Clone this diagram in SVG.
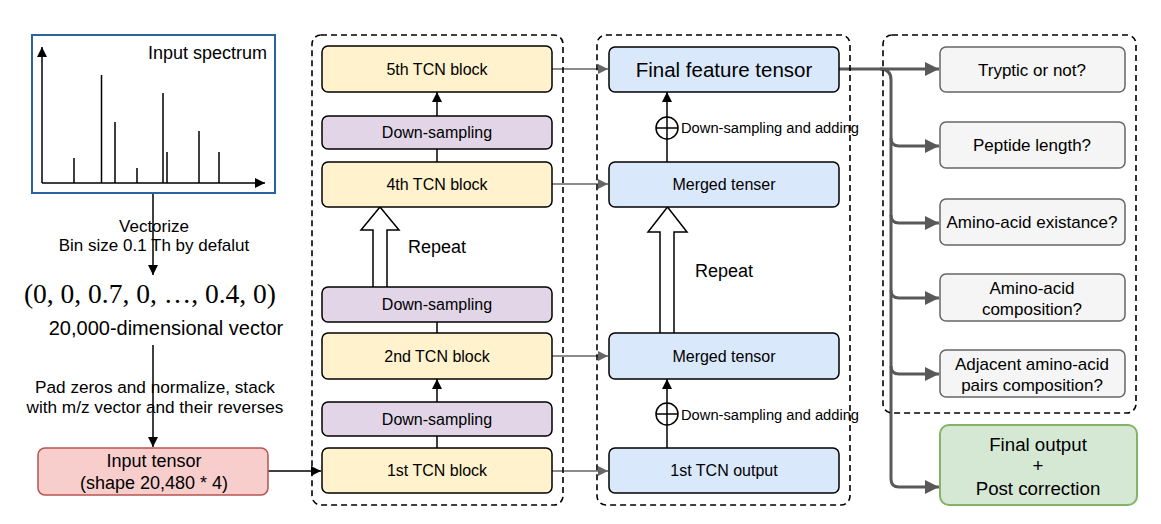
<svg xmlns="http://www.w3.org/2000/svg" width="1161" height="524" viewBox="0 0 1161 524">
<defs>
<style>
text{font-family:"Liberation Sans",Arial,sans-serif;fill:#000}
.c{text-anchor:middle}
.tcn{fill:#FFF2CC;stroke:#000;stroke-width:1.5}
.ds{fill:#E1D5E7;stroke:#000;stroke-width:1.5}
.blue{fill:#DAE8FC;stroke:#000;stroke-width:1.5}
.gray{fill:#F5F5F5;stroke:#666;stroke-width:1.5}
.cont{fill:none;stroke:#000;stroke-width:1.6;stroke-dasharray:6 4}
.ln{fill:none;stroke:#000;stroke-width:1.5}
.gl{fill:none;stroke:#666;stroke-width:1.5}
.tk{fill:none;stroke:#595959;stroke-width:3}
.hollow{fill:#fff;stroke:#000;stroke-width:1.5}
.bt{font-size:16px}
.qt{font-size:17px}
</style>
<marker id="ab" viewBox="0 0 10 10" refX="10" refY="5" markerWidth="10" markerHeight="10" markerUnits="userSpaceOnUse" orient="auto"><path d="M0,0 L10,5 L0,10 Z" fill="#000"/></marker>
<marker id="ag" viewBox="0 0 10 10" refX="10" refY="5" markerWidth="10" markerHeight="10" markerUnits="userSpaceOnUse" orient="auto"><path d="M0,0 L10,5 L0,10 Z" fill="#666"/></marker>
<marker id="at" viewBox="0 0 14 14" refX="14" refY="7" markerWidth="14" markerHeight="14" markerUnits="userSpaceOnUse" orient="auto"><path d="M0,0 L14,7 L0,14 Z" fill="#595959"/></marker>
</defs>

<g id="connectors">
<line class="ln" x1="153" y1="193" x2="153" y2="275" marker-end="url(#ab)"/>
<line class="ln" x1="153" y1="345" x2="153" y2="447" marker-end="url(#ab)"/>
<line class="ln" x1="268" y1="471" x2="321" y2="471" marker-end="url(#ab)"/>
<line class="ln" x1="437" y1="448" x2="437" y2="436"/>
<line class="ln" x1="437" y1="402" x2="437" y2="379" marker-end="url(#ab)"/>
<line class="ln" x1="437" y1="333" x2="437" y2="322"/>
<line class="ln" x1="437" y1="162" x2="437" y2="149"/>
<line class="ln" x1="437" y1="116" x2="437" y2="92" marker-end="url(#ab)"/>
<line class="gl" x1="552" y1="69" x2="608" y2="69" marker-end="url(#ag)"/>
<line class="gl" x1="552" y1="184" x2="608" y2="184" marker-end="url(#ag)"/>
<line class="gl" x1="552" y1="356" x2="608" y2="356" marker-end="url(#ag)"/>
<line class="gl" x1="552" y1="471" x2="608" y2="471" marker-end="url(#ag)"/>
<line class="ln" x1="667" y1="448" x2="667" y2="379" marker-end="url(#ab)"/>
<line class="ln" x1="667" y1="162" x2="667" y2="92" marker-end="url(#ab)"/>
<circle cx="667" cy="414" r="11" fill="#fff" stroke="#000" stroke-width="1.5"/>
<path class="ln" d="M656,414 H678 M667,403 V425"/>
<circle cx="667" cy="128" r="11" fill="#fff" stroke="#000" stroke-width="1.5"/>
<path class="ln" d="M656,128 H678 M667,117 V139"/>
<path class="hollow" d="M373,287 V230 H361 L380,207 L399,230 H387 V287"/>
<path class="hollow" d="M660,333 V232 H648 L667.5,207 L687,232 H674 V333"/>
<line class="tk" x1="839" y1="69" x2="939" y2="69" marker-end="url(#at)"/>
<path class="tk" d="M880,69 Q891,69 891,80 V479 Q891,487 899,487 H939" marker-end="url(#at)"/>
<path class="tk" d="M891,138 Q891,146 899,146 H939" marker-end="url(#at)"/>
<path class="tk" d="M891,215 Q891,223 899,223 H939" marker-end="url(#at)"/>
<path class="tk" d="M891,290 Q891,298 899,298 H939" marker-end="url(#at)"/>
<path class="tk" d="M891,366 Q891,374 899,374 H939" marker-end="url(#at)"/>
</g>

<g id="spectrum">
<rect x="32" y="35" width="243" height="158" fill="#fff" stroke="#2A63A0" stroke-width="2"/>
<line class="ln" x1="42" y1="183" x2="42" y2="47" marker-end="url(#ab)"/>
<line class="ln" x1="42" y1="183" x2="265" y2="183" marker-end="url(#ab)"/>
<path class="ln" d="M74,183V158 M101.5,183V75 M115,183V122 M137,183V168 M163,183V93 M167,183V152 M199,183V131 M219,183V152"/>
<text x="267" y="59" font-size="18" text-anchor="end">Input spectrum</text>
</g>

<g id="labels-left">
<text class="c" x="154" y="232" font-size="17">Vectorize</text>
<text class="c" x="154" y="251" font-size="17">Bin size 0.1 Th by defalut</text>
<text class="c" x="150" y="303" font-size="27.5" style="font-family:'Liberation Serif','Times New Roman',serif">(0, 0, 0.7, 0, …, 0.4, 0)</text>
<text class="c" x="166" y="335" font-size="20">20,000-dimensional vector</text>
<text class="c" x="155" y="393" font-size="17.2">Pad zeros and normalize, stack</text>
<text class="c" x="155" y="413" font-size="17.2">with m/z vector and their reverses</text>
</g>

<g id="input-tensor">
<rect x="38" y="448" width="230" height="47" rx="7" fill="#F8CECC" stroke="#B85450" stroke-width="1.5"/>
<text class="c" x="154" y="467" font-size="18">Input tensor</text>
<text class="c" x="154" y="489" font-size="18">(shape 20,480 * 4)</text>
</g>

<g id="containers">
<rect class="cont" x="312" y="35" width="251" height="470" rx="9"/>
<rect class="cont" x="597" y="35" width="253" height="470" rx="9"/>
<rect class="cont" x="883" y="35" width="253" height="378" rx="9"/>
</g>

<g id="tcn5"><rect class="tcn" x="322" y="46" width="230" height="46" rx="6"/><text class="c bt" x="437" y="75">5th TCN block</text></g>
<g id="ds4"><rect class="ds" x="322" y="116" width="230" height="33" rx="6"/><text class="c bt" x="437" y="138">Down-sampling</text></g>
<g id="tcn4"><rect class="tcn" x="322" y="162" width="230" height="45" rx="6"/><text class="c bt" x="437" y="190">4th TCN block</text></g>
<g id="repeat1"><text x="408" y="253" font-size="18">Repeat</text></g>
<g id="ds2"><rect class="ds" x="322" y="287" width="230" height="35" rx="6"/><text class="c bt" x="437" y="310">Down-sampling</text></g>
<g id="tcn2"><rect class="tcn" x="322" y="333" width="230" height="46" rx="6"/><text class="c bt" x="437" y="362">2nd TCN block</text></g>
<g id="ds1"><rect class="ds" x="322" y="402" width="230" height="34" rx="6"/><text class="c bt" x="437" y="425">Down-sampling</text></g>
<g id="tcn1"><rect class="tcn" x="322" y="448" width="230" height="45" rx="6"/><text class="c bt" x="437" y="476">1st TCN block</text></g>

<g id="final-feature"><rect class="blue" x="609" y="47" width="230" height="45" rx="6"/><text class="c" x="724" y="77" font-size="20.5">Final feature tensor</text></g>
<g id="add2"><text x="681" y="133" font-size="14.7">Down-sampling and adding</text></g>
<g id="merged-tenser"><rect class="blue" x="609" y="162" width="230" height="45" rx="6"/><text class="c bt" x="724" y="190">Merged tenser</text></g>
<g id="repeat2"><text x="695" y="277" font-size="18">Repeat</text></g>
<g id="merged-tensor"><rect class="blue" x="609" y="333" width="230" height="46" rx="6"/><text class="c bt" x="724" y="362">Merged tensor</text></g>
<g id="add1"><text x="681" y="420" font-size="14.7">Down-sampling and adding</text></g>
<g id="tcn-out"><rect class="blue" x="609" y="448" width="230" height="45" rx="6"/><text class="c bt" x="724" y="476">1st TCN output</text></g>

<g id="tryptic"><rect class="gray" x="940" y="47" width="185" height="45" rx="6"/><text class="c qt" x="1032" y="76">Tryptic or not?</text></g>
<g id="length"><rect class="gray" x="940" y="122" width="185" height="46" rx="6"/><text class="c qt" x="1032" y="151">Peptide length?</text></g>
<g id="existance"><rect class="gray" x="940" y="199" width="185" height="46" rx="6"/><text class="c qt" x="1032" y="228">Amino-acid existance?</text></g>
<g id="composition"><rect class="gray" x="940" y="274" width="185" height="47" rx="6"/><text class="c qt" x="1032" y="294">Amino-acid</text><text class="c qt" x="1032" y="315">composition?</text></g>
<g id="pairs"><rect class="gray" x="940" y="350" width="185" height="47" rx="6"/><text class="c qt" x="1032" y="370">Adjacent amino-acid</text><text class="c qt" x="1032" y="391">pairs composition?</text></g>
<g id="final-output"><rect x="940" y="425" width="197" height="80" rx="9" fill="#D5E8D4" stroke="#82B366" stroke-width="2"/><text class="c" x="1038" y="451" font-size="18.7">Final output</text><text class="c" x="1038" y="472" font-size="18.7">+</text><text class="c" x="1038" y="495" font-size="18.7">Post correction</text></g>
</svg>
